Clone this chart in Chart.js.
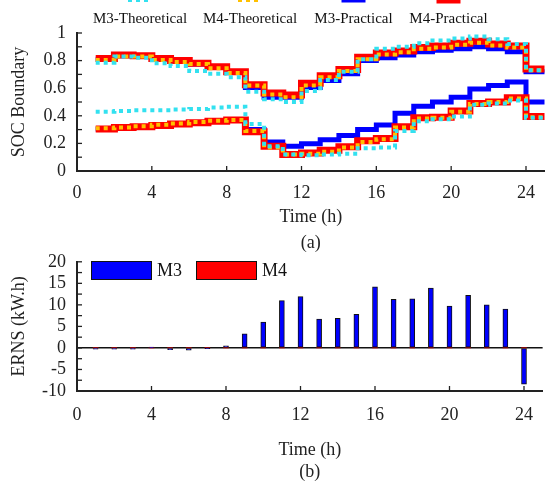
<!DOCTYPE html>
<html><head><meta charset="utf-8">
<script src="https://cdn.jsdelivr.net/npm/chart.js@4.4.0/dist/chart.umd.min.js"></script>
<style>
html,body{margin:0;padding:0;background:#fff;}
#wrap{position:relative;width:546px;height:483px;overflow:hidden;background:#fff;}
canvas{position:absolute;left:0;}
</style></head><body>
<div id="wrap">
<canvas id="c1" width="546" height="256" style="top:0px"></canvas>
<canvas id="c2" width="546" height="243" style="top:240px"></canvas>
</div>
<script>
// ---------- data ----------
const hours = [1,2,3,4,5,6,7,8,9,10,11,12,13,14,15,16,17,18,19,20,21,22,23,24];
const xTicks = [0,4,8,12,16,20,24];
const socTicks = [0,0.2,0.4,0.6,0.8,1];
const ernsTicks = [-10,-5,0,5,10,15,20];
const seriesNames = ['M3-Theoretical','M4-Theoretical','M3-Practical','M4-Practical'];

// SOC boundaries (value held over [h, h+1])
const m3TheoUpper = [0.785,0.83,0.82,0.78,0.76,0.725,0.705,0.68,0.575,0.52,0.50,0.58,0.66,0.72,0.81,0.885,0.90,0.925,0.945,0.96,0.975,0.955,0.92,0.73];
const m3TheoLower = [0.43,0.435,0.44,0.44,0.445,0.45,0.46,0.465,0.34,0.18,0.12,0.115,0.12,0.125,0.165,0.17,0.29,0.36,0.375,0.395,0.48,0.49,0.51,0.385];
const m4TheoUpper = [0.805,0.83,0.83,0.805,0.79,0.775,0.745,0.71,0.62,0.555,0.535,0.62,0.68,0.725,0.81,0.845,0.86,0.885,0.895,0.915,0.93,0.91,0.895,0.73];
const m4TheoLower = [0.31,0.315,0.325,0.335,0.345,0.355,0.365,0.37,0.29,0.17,0.12,0.125,0.14,0.17,0.21,0.23,0.315,0.38,0.385,0.43,0.485,0.50,0.525,0.39];
const m3PracUpper = [0.81,0.835,0.83,0.81,0.795,0.775,0.75,0.715,0.605,0.535,0.535,0.605,0.655,0.705,0.80,0.82,0.84,0.865,0.875,0.885,0.90,0.885,0.865,0.72];
const m3PracLower = [0.305,0.315,0.32,0.33,0.34,0.35,0.36,0.37,0.30,0.21,0.18,0.198,0.227,0.258,0.30,0.333,0.418,0.47,0.50,0.535,0.595,0.62,0.645,0.50];
const m4PracUpper = [0.815,0.84,0.835,0.815,0.80,0.78,0.755,0.72,0.625,0.565,0.55,0.635,0.69,0.735,0.825,0.855,0.87,0.895,0.905,0.925,0.94,0.92,0.905,0.74];
const m4PracLower = [0.305,0.315,0.32,0.33,0.34,0.35,0.36,0.37,0.285,0.18,0.12,0.13,0.15,0.175,0.22,0.235,0.32,0.385,0.39,0.435,0.49,0.50,0.53,0.395];

// ERNS (kW.h)
const ernsM3 = [-0.3,-0.3,-0.3,0.1,-0.4,-0.5,-0.1,0.5,3.3,6.0,11.0,11.9,6.7,6.9,7.8,14.2,11.3,11.4,13.9,9.7,12.2,10.0,9.0,-8.4];
const ernsM4 = [0,0,0,0,0,0,0,0,0,0,0,0,0,0,0,0,0,0,0,0,0,0,0,0];

// ---------- helpers ----------
const FONT = "'Liberation Serif', 'Times New Roman', serif";
const INK = '#222';
const COLORS = {'M3-Theoretical':'#33E1F0','M4-Theoretical':'#FFC000','M3-Practical':'#0000FF','M4-Practical':'#FF0000'};

function stepPoints(arr){
  const pts = hours.map((h,i)=>({x:h, y:arr[i]}));
  pts.push({x:hours[hours.length-1]+1, y:arr[arr.length-1]});
  return pts;
}
function lineDs(label, arr){
  const base = {label, data: stepPoints(arr), stepped:true, pointRadius:0, fill:false,
    borderColor: COLORS[label], borderCapStyle:'butt', borderJoinStyle:'miter', tension:0};
  if (label==='M3-Theoretical') Object.assign(base,{borderWidth:4, borderDash:[4,4], order:0});
  if (label==='M4-Theoretical') Object.assign(base,{borderWidth:4, borderDash:[4,4], order:1});
  if (label==='M4-Practical') Object.assign(base,{borderWidth:7, order:2});
  if (label==='M3-Practical') Object.assign(base,{borderWidth:5, order:3});
  return base;
}

const innerTicks = {
  id:'innerTicks',
  afterDatasetsDraw(chart, args, opts){
    const {ctx, chartArea, scales:{x,y}} = chart;
    ctx.save();
    ctx.strokeStyle = INK; ctx.lineWidth = 1.3;
    const n = Math.round((y.max - y.min)/opts.yStep);
    for (let i=0;i<=n;i++){
      const py = y.getPixelForValue(y.min + i*opts.yStep);
      ctx.beginPath(); ctx.moveTo(chartArea.left, py); ctx.lineTo(chartArea.left+5, py); ctx.stroke();
    }
    xTicks.forEach(v=>{
      if (v===0) return;
      const px = x.getPixelForValue(v);
      ctx.beginPath(); ctx.moveTo(px, chartArea.bottom); ctx.lineTo(px, chartArea.bottom-5); ctx.stroke();
    });
    ctx.restore();
  }
};

const topLegend = {
  id:'topLegend',
  afterDraw(chart, args, opts){
    const ctx = chart.ctx;
    ctx.save();
    seriesNames.forEach((name, i)=>{
      const ds = chart.data.datasets.find(d=>d.label===name);
      const cx = opts.centers[i];
      ctx.strokeStyle = ds.borderColor; ctx.lineWidth = ds.borderWidth;
      ctx.setLineDash(ds.borderDash || []);
      ctx.beginPath(); ctx.moveTo(cx-12, 0); ctx.lineTo(cx+12, 0); ctx.stroke();
      ctx.setLineDash([]);
      ctx.fillStyle = '#111'; ctx.font = '15px ' + FONT;
      ctx.textAlign = 'center'; ctx.textBaseline = 'middle';
      ctx.fillText(name, cx, 19);
    });
    ctx.restore();
  }
};

const barLegend = {
  id:'barLegend',
  afterDraw(chart, args, opts){
    const ctx = chart.ctx;
    ctx.save();
    chart.data.datasets.forEach((ds, i)=>{
      const bx = opts.items[i];
      ctx.fillStyle = ds.legendColor;
      ctx.fillRect(bx, 21, 60, 18);
      ctx.strokeStyle = '#111'; ctx.lineWidth = 1;
      ctx.strokeRect(bx+0.5, 21.5, 60, 18);
      ctx.fillStyle = '#111'; ctx.font = '18px ' + FONT;
      ctx.textAlign = 'left'; ctx.textBaseline = 'middle';
      ctx.fillText(ds.label, bx+66, 31);
    });
    ctx.restore();
  }
};

const tickFont = {family: FONT, size: 18};
function fmtSoc(v){ return (v===0||v===1) ? String(v) : v.toFixed(1); }

// ---------- chart (a) ----------
new Chart(document.getElementById('c1'), {
  type:'line',
  data:{ datasets:[
    lineDs('M3-Theoretical', m3TheoUpper), lineDs('M3-Theoretical', m3TheoLower),
    lineDs('M4-Theoretical', m4TheoUpper), lineDs('M4-Theoretical', m4TheoLower),
    lineDs('M3-Practical', m3PracUpper), lineDs('M3-Practical', m3PracLower),
    lineDs('M4-Practical', m4PracUpper), lineDs('M4-Practical', m4PracLower)
  ]},
  options:{
    responsive:false, animation:false, devicePixelRatio:1,
    layout:{padding:{top:33,left:0,right:0,bottom:0}},
    plugins:{legend:{display:false}, tooltip:{enabled:false},
      innerTicks:{yStep:0.1}, topLegend:{centers:[140,250,353.5,448.5]}},
    scales:{
      x:{type:'linear', min:0, max:25,
        afterBuildTicks:s=>{s.ticks = xTicks.map(v=>({value:v}));},
        afterFit:s=>{s.height = 85;},
        grid:{display:false, drawTicks:false},
        border:{display:true, color:INK, width:2},
        ticks:{padding:11, font:tickFont, color:INK, maxRotation:0, autoSkip:false},
        title:{display:true, text:['Time (h)','(a)'], color:INK, font:{family:FONT,size:18,lineHeight:26/18}, padding:{top:0,bottom:0}}
      },
      y:{type:'linear', min:0, max:1,
        afterBuildTicks:s=>{s.ticks = socTicks.map(v=>({value:v}));},
        afterFit:s=>{s.width = 77;},
        grid:{display:false, drawTicks:false},
        border:{display:true, color:INK, width:2},
        ticks:{padding:11, font:tickFont, color:INK, autoSkip:false, callback:v=>fmtSoc(v)},
        title:{display:true, text:'SOC Boundary', color:INK, font:{family:FONT,size:18}, padding:{top:8,bottom:0}}
      }
    }
  },
  plugins:[innerTicks, topLegend]
});

// ---------- chart (b) ----------
new Chart(document.getElementById('c2'), {
  type:'bar',
  data:{ datasets:[
    {label:'M3', data:hours.map((h,i)=>({x:h,y:ernsM3[i]})), backgroundColor:'#0000FF', legendColor:'#0000FF',
     borderColor:'#111', borderWidth:1, borderSkipped:false, barThickness:5, grouped:false, order:0},
    {label:'M4', data:hours.map((h,i)=>({x:h,y:ernsM4[i]})), backgroundColor:'#FF0000', legendColor:'#FF0000',
     borderColor:'#111', borderWidth:0, barThickness:5, grouped:false, order:1}
  ]},
  options:{
    responsive:false, animation:false, devicePixelRatio:1,
    layout:{padding:{top:12,left:0,right:0,bottom:0}},
    plugins:{legend:{display:false}, tooltip:{enabled:false},
      innerTicks:{yStep:2.5}, barLegend:{items:[91,196]}},
    scales:{
      x:{type:'linear', min:0, max:25, offset:false,
        afterBuildTicks:s=>{s.ticks = xTicks.map(v=>({value:v}));},
        afterFit:s=>{s.height = 92;},
        grid:{display:false, drawTicks:false},
        border:{display:true, color:INK, width:2},
        ticks:{padding:13, font:tickFont, color:INK, maxRotation:0, autoSkip:false},
        title:{display:true, text:['Time (h)','(b)'], color:INK, font:{family:FONT,size:18,lineHeight:22/18}, padding:{top:0,bottom:0}}
      },
      y:{type:'linear', min:-10, max:20,
        afterBuildTicks:s=>{s.ticks = ernsTicks.map(v=>({value:v}));},
        afterFit:s=>{s.width = 77;},
        grid:{display:true, drawTicks:false, drawOnChartArea:true,
          color:c=> (c.tick && c.tick.value===0) ? '#111' : 'rgba(0,0,0,0)', lineWidth:1.5},
        border:{display:true, color:INK, width:2},
        ticks:{padding:11, font:tickFont, color:INK, autoSkip:false},
        title:{display:true, text:'ERNS (kW.h)', color:INK, font:{family:FONT,size:18}, padding:{top:8,bottom:0}}
      }
    }
  },
  plugins:[innerTicks, barLegend]
});
</script>
</body></html>
